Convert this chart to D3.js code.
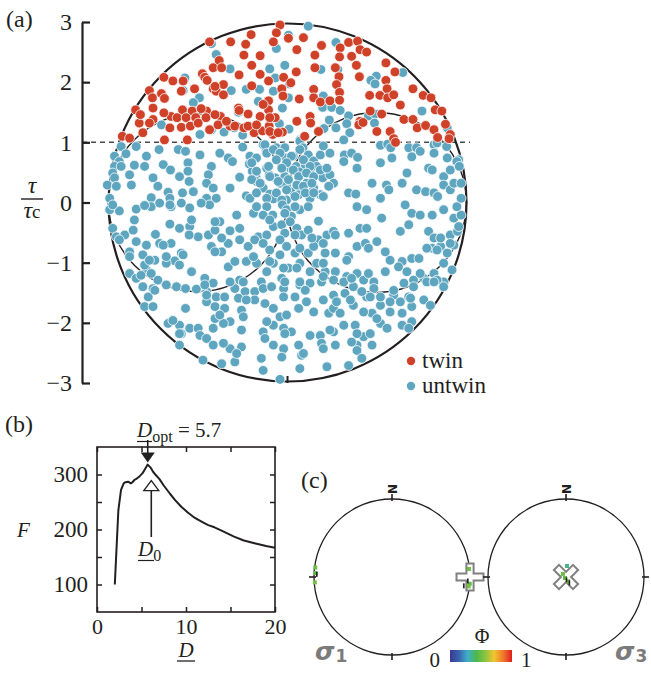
<!DOCTYPE html>
<html><head><meta charset="utf-8">
<script src="https://cdn.jsdelivr.net/npm/d3@7/dist/d3.min.js"></script>
<style>
body{margin:0;background:#fff}
svg{display:block;font-family:"Liberation Serif","Times New Roman",serif;fill:#231f20}
</style></head>
<body><svg id="fig" width="651" height="673"></svg>
<script>
// ---------- (a) normalised resolved shear stress on the Mohr diagram ----------
// [sigma_n, tau/tau_c] for every grain, split by twin observation
const twinPts = [[-0.05,2.95],[-0.11,2.82],[0.09,2.73],[-0.53,2.79],[0.34,2.74],[-1.22,2.67],[-0.87,2.67],[1.09,2.66],[1.24,2.68],[-0.62,2.63],[-0.16,2.67],[0.23,2.54],[0.64,2.61],[1.28,2.54],[1.39,2.5],[0.95,2.57],[-0.65,2.45],[-0.38,2.44],[0.53,2.45],[0.94,2.42],[-1.06,2.36],[-1.16,2.24],[-1.02,2.24],[-0.73,2.12],[-0.38,2.13],[0.22,2.17],[0.53,2.24],[0.87,2.24],[1.22,2.28],[1.71,2.32],[1.86,2.17],[-1.34,2.14],[-1.3,2.08],[-1.98,2.08],[-1.83,2.02],[-1.66,2.02],[-1.26,2.03],[0.01,2.08],[0.93,2.09],[1.27,2.09],[1.71,2.03],[-2.22,1.86],[-2.02,1.81],[-2.17,1.74],[-1.97,1.73],[-1.69,1.85],[-1.47,1.89],[-1.16,1.89],[-0.99,1.96],[-1.11,1.85],[-0.02,1.89],[0.13,1.99],[0.51,1.88],[0.89,1.96],[0.94,1.83],[1.44,1.78],[1.61,1.78],[1.73,1.89],[1.74,1.74],[1.84,1.79],[2.16,1.89],[2.33,1.78],[2.46,1.74],[-0.24,1.69],[0.27,1.72],[0.51,1.74],[0.62,1.67],[0.78,1.69],[0.94,1.7],[-2.45,1.54],[-2.16,1.57],[-1.86,1.43],[-1.67,1.54],[-1.51,1.52],[-1.27,1.52],[-1.76,1.41],[-1.61,1.41],[-1.45,1.41],[-1.28,1.41],[-1.04,1.43],[-0.74,1.57],[-0.58,1.47],[-0.38,1.43],[-0.24,1.54],[0.23,1.35],[0.45,1.43],[1.28,1.35],[1.64,1.47],[1.95,1.62],[2.01,1.38],[2.16,1.38],[2.53,1.54],[2.64,1.52],[-2.39,1.32],[-1.88,1.24],[-1.69,1.25],[-1.54,1.27],[-2.16,1.38],[-0.88,1.27],[-0.8,1.27],[-0.65,1.24],[-0.48,1.16],[-0.34,1.19],[-0.23,1.27],[-0.13,1.41],[-0.17,1.13],[-0.01,1.17],[0.46,1.32],[0.59,1.18],[1.56,1.18],[1.78,1.18],[2.23,1.24],[2.37,1.28],[2.51,1.21],[2.7,1.3],[2.78,1.13],[2.57,1.08],[-2.67,1.1],[-2.55,1.07],[-2.33,1.16],[-1.97,1.04],[-1.59,1.04],[2.76,1.06],[1.84,1.06],[1.45,1.52],[1.26,1.29],[-0.52,2.28],[-1.13,1.93],[-0.99,1.79],[-0.52,1.94],[-0.24,2.02],[0.0,1.77],[-2.37,1.46],[-1.98,1.49],[-1.36,1.56],[-1.13,1.46],[-0.73,1.53],[-0.33,1.63],[-0.22,1.41],[-2.22,1.32],[-1.41,1.32],[-1.22,1.21],[-1.08,1.29],[-0.94,1.35],[-0.58,1.27],[-0.44,1.29],[-0.22,1.18],[-0.08,1.16],[1.14,2.43],[0.36,1.1],[1.87,1.0],[1.33,1.33]];

const untwinPts = [[0.42,2.93],[0.09,2.78],[-1.19,2.64],[0.88,2.66],[-0.11,2.56],[-1.11,2.46],[-0.88,2.22],[-0.22,2.22],[0.03,2.28],[0.63,2.21],[0.91,2.21],[1.99,2.16],[-1.63,2.07],[-0.13,2.07],[1.55,2.1],[-1.66,1.86],[-0.86,1.86],[-0.61,1.88],[-0.39,1.88],[-0.16,1.85],[0.11,1.97],[1.46,2.03],[1.53,1.97],[-1.39,1.74],[0.09,1.74],[-1.49,1.66],[-0.74,1.5],[-0.01,1.57],[0.66,1.58],[0.81,1.58],[0.95,1.53],[1.09,1.44],[1.42,1.44],[1.53,1.47],[2.31,1.52],[-2.02,1.29],[-1.19,1.21],[-0.98,1.35],[-0.81,1.24],[-0.98,1.17],[-0.67,1.12],[-0.06,1.31],[0.1,1.22],[0.68,1.23],[0.88,1.24],[0.77,1.37],[1.06,1.31],[1.52,1.32],[-1.38,1.13],[0.67,1.77],[1.11,1.16],[1.01,1.04],[2.73,1.24],[0.28,1.04],[-0.41,1.68],
[-2.69,0.93],[-2.44,0.93],[-2.06,0.88],[-1.74,0.88],[-1.62,0.85],[-1.38,0.79],[-1.05,0.82],[-0.91,0.74],[-0.67,0.92],[-0.55,0.77],[-0.44,0.74],[-0.33,0.96],[-0.28,0.86],[-0.11,0.91],[-0.05,0.82],[0.05,0.74],[0.17,0.77],[0.28,1.02],[0.33,0.91],[0.42,0.79],[0.51,0.69],[0.62,0.79],[0.67,0.94],[0.78,0.82],[1.02,0.79],[1.14,0.82],[1.24,0.75],[1.62,0.95],[1.74,0.97],[1.79,0.91],[2.09,0.91],[2.22,0.91],[2.28,0.85],[2.51,0.96],[2.56,0.99],[2.72,0.93],[2.51,0.82],[2.73,0.74],[2.92,0.71],[1.81,0.74],[2.14,0.76],[-2.8,0.77],[-2.72,0.68],[-2.61,0.81],[-2.27,0.77],
[-2.8,0.6],[-2.69,0.6],[-2.47,0.62],[-2.3,0.6],[-1.99,0.63],[-1.87,0.54],[-1.58,0.66],[-1.58,0.52],[-1.19,0.6],[-1.24,0.46],[-0.84,0.68],[-0.56,0.64],[-0.51,0.52],[-0.45,0.43],[-0.27,0.57],[-0.23,0.46],[-0.13,0.41],[0.03,0.43],[0.12,0.57],[0.22,0.6],[0.28,0.51],[0.37,0.63],[0.45,0.52],[0.56,0.6],[0.66,0.41],[0.78,0.46],[1.01,0.68],[1.23,0.57],[1.62,0.66],[2.06,0.49],[2.42,0.57],[2.48,0.54],[2.67,0.43],[2.78,0.54],[2.89,0.68],[2.93,0.6],[-2.83,0.49],[-2.8,0.41],[-2.55,0.46],[-2.16,0.41],[-1.72,0.43],[-1.56,0.35],[-0.72,0.42],
[-2.92,0.29],[-2.77,0.27],[-2.52,0.29],[-2.08,0.27],[-1.91,0.17],[-1.67,0.16],[-1.49,0.18],[-1.27,0.32],[-1.16,0.24],[-0.88,0.24],[-0.61,0.11],[-0.44,0.35],[-0.33,0.24],[-0.22,0.14],[-0.05,0.32],[0.06,0.29],[0.17,0.18],[0.28,0.24],[0.39,0.32],[0.51,0.24],[0.62,0.13],[0.84,0.32],[1.09,0.16],[1.21,0.14],[1.48,0.32],[1.72,0.29],[1.76,0.21],[1.98,0.32],[2.22,0.21],[2.37,0.18],[2.51,0.16],[2.67,0.29],[2.78,0.21],[2.84,0.32],[2.96,0.32],[-2.88,0.07],[-2.19,0.08],[-1.88,0.07],[-1.27,0.07],[-1.11,0.07],[-0.55,0.07],[-0.16,0.06],[0.06,0.04],[0.26,0.13],[0.45,0.07],[1.62,0.07],[2.57,0.1],[2.96,0.07],
[0.03,0.91],[0.14,0.77],[0.28,0.88],[0.34,0.71],[0.45,0.6],[0.06,0.66],[0.17,0.54],[0.26,0.43],[0.39,0.49],[0.51,0.43],[0.09,0.38],[0.23,0.29],[0.34,0.27],[0.48,0.32],[0.62,0.54],[0.73,0.57],[0.06,0.21],[0.2,0.1],[0.37,0.16],[0.51,0.16],[0.67,0.1],[0.76,0.27],[-0.3,0.96],[-0.27,0.82],[-0.16,0.88],[-0.05,0.82],[-0.52,0.66],[-0.44,0.52],[-0.24,0.6],[-0.11,0.71],[-0.02,0.57],[-0.52,0.38],[-0.38,0.32],[-0.22,0.43],[-0.08,0.35],[-0.44,0.16],[-0.27,0.07],[-0.11,0.16],[-0.02,0.04],
[-2.88,-0.12],[-2.72,-0.14],[-2.44,-0.11],[-2.19,-0.07],[-2.05,-0.01],[-1.86,-0.07],[-1.69,-0.01],[-1.55,-0.09],[-1.22,-0.04],[-0.77,-0.21],[-0.49,-0.18],[-0.27,-0.07],[-0.17,-0.21],[-0.01,-0.04],[0.06,-0.12],[0.14,-0.23],[0.28,-0.12],[0.42,-0.07],[0.59,-0.31],[1.23,-0.07],[1.39,-0.12],[1.64,-0.26],[2.03,-0.04],[2.14,-0.18],[2.28,-0.21],[2.48,-0.21],[2.67,-0.12],[2.84,-0.26],[2.96,-0.21],[2.89,-0.07],[-2.47,-0.29],
[-2.83,-0.43],[-2.77,-0.57],[-2.63,-0.54],[-2.49,-0.46],[-2.12,-0.53],[-1.88,-0.36],[-1.72,-0.43],[-1.55,-0.4],[-1.41,-0.57],[-1.24,-0.54],[-1.13,-0.46],[-1.05,-0.32],[-0.88,-0.47],[-0.72,-0.43],[-0.41,-0.57],[-0.27,-0.54],[-0.16,-0.4],[-0.02,-0.37],[0.03,-0.51],[0.12,-0.32],[0.23,-0.43],[0.31,-0.54],[0.42,-0.46],[0.59,-0.62],[0.73,-0.54],[0.84,-0.48],[1.09,-0.51],[1.28,-0.43],[1.39,-0.43],[1.95,-0.48],[2.42,-0.48],[2.51,-0.59],[2.78,-0.54],[2.9,-0.48],[2.92,-0.4],[-2.72,-0.62],
[-2.44,-0.65],[-2.55,-0.82],[-2.27,-0.71],[-2.05,-0.68],[-1.86,-0.68],[-1.69,-0.84],[-1.19,-0.73],[-1.02,-0.82],[-0.91,-0.68],[-0.72,-0.62],[-0.58,-0.73],[-0.47,-0.62],[-0.33,-0.68],[-0.22,-0.79],[-0.05,-0.62],[0.06,-0.73],[0.2,-0.84],[0.28,-0.76],[0.42,-0.84],[0.51,-0.73],[0.7,-0.84],[0.87,-0.84],[1.09,-0.9],[1.23,-0.73],[1.37,-0.68],[1.42,-0.76],[1.56,-0.65],[1.7,-0.82],[1.78,-0.96],[1.98,-0.98],[2.14,-0.93],[2.26,-0.93],[2.48,-0.76],[2.62,-0.73],[2.84,-0.71],[2.73,-0.84],[-2.33,-0.87],[-2.13,-0.96],[-1.8,-0.97],
[-2.55,-1.18],[-2.44,-1.26],[-2.27,-1.12],[-2.08,-1.29],[-1.94,-1.01],[-1.72,-1.04],[-1.52,-1.15],[-1.3,-1.26],[-0.91,-1.07],[-0.8,-0.98],[-0.61,-0.98],[-0.44,-1.01],[-0.27,-1.15],[-0.16,-1.01],[0.09,-1.09],[0.28,-1.01],[0.45,-1.15],[0.7,-1.15],[0.87,-1.15],[1.06,-1.23],[1.23,-1.18],[1.34,-1.29],[1.51,-1.32],[1.7,-1.15],[2.01,-1.34],[2.17,-1.29],[2.34,-1.26],[2.51,-1.18],[2.67,-1.01],[2.81,-1.12],[-0.72,-1.29],[-0.36,-1.32],[-0.02,-1.26],
[-2.33,-1.4],[-2.24,-1.57],[-2.16,-1.43],[-1.94,-1.37],[-1.77,-1.4],[-1.62,-1.43],[-1.27,-1.48],[-1.11,-1.57],[-0.97,-1.57],[-0.8,-1.43],[-0.63,-1.48],[-0.47,-1.48],[-0.33,-1.43],[-0.19,-1.4],[0.01,-1.43],[0.28,-1.37],[0.45,-1.34],[0.64,-1.32],[0.84,-1.54],[1.03,-1.51],[1.17,-1.4],[1.39,-1.57],[1.84,-1.54],[2.09,-1.57],[2.34,-1.62],[2.67,-1.32],[-1.16,-1.34],
[-2.3,-1.73],[-2.16,-1.73],[-1.62,-1.76],[-1.27,-1.65],[-1.13,-1.73],[-0.97,-1.76],[-0.69,-1.79],[-0.47,-1.62],[-0.3,-1.68],[-0.16,-1.76],[0.26,-1.76],[0.39,-1.65],[0.76,-1.84],[0.84,-1.76],[0.95,-1.84],[1.17,-1.71],[1.62,-1.71],[1.78,-1.82],[1.98,-1.84],[2.14,-1.73],[2.45,-1.71],[-1.13,-1.93],[-0.88,-1.98],[-0.05,-1.9],[1.48,-1.84],
[-1.91,-2.01],[-1.72,-2.04],[-1.55,-2.09],[-1.41,-2.09],[-1.69,-2.18],[-1.38,-2.21],[-1.16,-2.09],[-0.99,-2.01],[-0.69,-2.12],[-0.33,-2.15],[-0.16,-2.04],[0.01,-2.09],[0.14,-2.15],[0.45,-2.21],[0.62,-2.21],[0.84,-2.15],[1.01,-2.04],[1.2,-2.04],[1.34,-2.23],[1.62,-2.01],[1.73,-2.09],[1.98,-2.04],[2.14,-1.98],[-0.3,-2.26],
[-1.72,-2.37],[-1.27,-2.26],[-1.16,-2.37],[-0.88,-2.43],[-0.69,-2.4],[-0.16,-2.37],[0.01,-2.43],[0.26,-2.37],[0.64,-2.34],[0.87,-2.37],[1.23,-2.37],[1.48,-2.37],[-1.33,-2.62],[-1.02,-2.68],[-0.8,-2.65],[-0.36,-2.59],[-0.02,-2.57],[0.31,-2.54],[0.73,-2.73],[1.09,-2.71],[0.28,-2.76],[-0.05,-2.94],
[-2.83,-0.04],[-2.3,-0.05],[-1.88,-0.04],[-1.36,-0.01],[-0.44,-0.07],[-0.33,-0.21],[0.03,-0.18],[-1.52,-0.29],[-1.13,-0.32],[-0.22,-0.29],[-1.99,-0.71],[-1.56,-0.54],[-1.02,-0.59],[-2.55,-0.9],[-2.3,-1.04],[-2.22,-0.96],[-1.94,-0.9],[-1.66,-0.87],[-1.13,-0.82],[-0.49,-0.9],[-0.22,-0.98],[-0.05,-0.87],[-2.36,-1.21],[-2.19,-1.18],[-2.13,-1.46],[-1.44,-1.44],[-1.3,-1.37],[-0.88,-1.32],[-0.66,-1.32],[-1.27,-1.54],[-0.74,-1.59],[-0.61,-1.62],[-1.05,-1.87],[-0.66,-1.9],[-0.27,-1.98],[-1.83,-1.96],[-1.72,-2.18],[-0.99,-2.34],[-0.77,-2.51],[-0.33,-2.79],
[0.2,-0.07],[0.2,-0.54],[0.48,-0.59],[0.67,-0.68],[0.87,-0.54],[2.09,-0.37],[2.62,-0.59],[2.39,-0.76],[2.56,-0.79],[2.78,-0.68],[0.01,-1.09],[0.23,-1.09],[0.56,-1.01],[0.67,-1.01],[1.06,-0.96],[1.42,-1.18],[1.92,-1.07],[2.06,-1.15],[2.28,-1.18],[2.39,-1.32],[2.56,-1.29],[0.03,-1.32],[0.28,-1.32],[0.67,-1.23],[0.84,-1.29],[1.01,-1.32],[1.14,-1.26],[1.51,-1.43],[1.84,-1.46],[2.17,-1.4],[2.51,-1.32],[2.67,-1.4],[0.01,-1.57],[0.2,-1.57],[0.37,-1.46],[0.67,-1.62],[0.89,-1.65],[1.12,-1.62],[1.31,-1.48],[1.45,-1.57],[1.62,-1.57],[1.78,-1.65],[1.95,-1.65],[2.12,-1.59],[0.06,-1.87],[0.51,-1.82],[1.34,-1.82],[1.56,-1.93],[2.09,-2.09],[0.03,-2.18],[0.78,-2.12],[1.23,-2.18],[1.45,-2.18],[0.34,-2.51],[0.67,-2.43],[1.14,-2.32],[1.23,-2.46],[1.31,-2.59]];

// principal stresses (normalised) bounding the Mohr circles
const sigma3 = -2.9, sigma2 = 0.06, sigma1 = 3.05;
const tauTicks = [-3, -2, -1, 0, 1, 2, 3];
const twinThreshold = 1;
const legendLabels = ["twin", "untwin"];

// ---------- (b) objective function against the estimated dislocation density ----------
const curveD = [2.0, 2.4, 2.7, 3.0, 3.2, 3.5, 3.8, 4.0, 4.2, 4.5, 4.8, 5.1, 5.4, 5.7, 6.0, 6.3, 6.6, 7.0, 7.5, 8.2, 8.8, 9.5, 10.2, 11.0, 11.8, 12.5, 13.2, 14.0, 15.4, 16.5, 17.7, 19.0, 20.0];
const curveF = [100, 235, 272, 284, 286, 287, 284, 286, 290, 293, 297, 302, 310, 318, 313, 305, 299, 292, 280, 265, 253, 241, 231, 221, 214, 208, 204, 198, 187, 180, 175, 170, 167];
const dOpt = 5.7, d0 = 6.1;
const dTicks = [0, 5, 10, 15, 20];
const fTicks = [100, 150, 200, 250, 300];

// ---------- (c) principal stress directions on equal-area stereonets ----------
// [trend, plunge] in degrees, with the stress ratio Phi for each solution
const sigma1Dirs = [[277, 1], [273, 2], [266, 1], [84, 1], [95, 0], [97, 1]];
const sigma1Phi  = [0.50, 0.47, 0.52, 0.50, 0.46, 0.52];
const sigma1Best = [[272, 4], [93, 3], [97, 8]];
const sigma3Dirs = [[315, 85.5], [225, 88.5], [153, 85], [5, 78.5]];
const sigma3Phi  = [0.50, 0.47, 0.53, 0.36];
const sigma3Best = [[170, 87], [150, 83]];
const phiColors = ["#3b3893", "#3a64b0", "#3fb0c9", "#4db848", "#8dc540", "#f2c530", "#ef7a2a", "#e31d23"];

// =====================================================================
const svg = d3.select("#fig");
const ink = "#231f20";
const red = "#cf4128", blue = "#5ea5bf";
const serif = "Liberation Serif";

// ----- panel (a)
const k = (383 - 22) / 6;
const xA = d3.scaleLinear().domain([-3, 3]).range([283 - 3 * k, 283 + 3 * k]);
const yA = d3.scaleLinear().domain([-3, 3]).range([383, 22]);
const gA = svg.append("g");

const mohr = [[sigma3, sigma2], [sigma2, sigma1]];
gA.selectAll("circle.small").data(mohr).join("circle")
  .attr("cx", d => xA((d[0] + d[1]) / 2)).attr("cy", yA(0))
  .attr("r", d => (xA(d[1]) - xA(d[0])) / 2)
  .attr("fill", "none").attr("stroke", ink).attr("stroke-width", 1.4);

gA.append("line")
  .attr("x1", 82).attr("x2", 470)
  .attr("y1", yA(twinThreshold)).attr("y2", yA(twinThreshold))
  .attr("stroke", "#4a4a4a").attr("stroke-width", 1.5).attr("stroke-dasharray", "5,4");

gA.append("circle")
  .attr("cx", xA((sigma1 + sigma3) / 2)).attr("cy", yA(0))
  .attr("r", (xA(sigma1) - xA(sigma3)) / 2)
  .attr("fill", "none").attr("stroke", ink).attr("stroke-width", 2.2);

gA.append("line")
  .attr("x1", xA((sigma1 + sigma3) / 2)).attr("x2", xA((sigma1 + sigma3) / 2))
  .attr("y1", yA(-3)).attr("y2", yA(-3) - 7)
  .attr("stroke", ink).attr("stroke-width", 2);

gA.append("g").selectAll("circle").data(untwinPts).join("circle")
  .attr("cx", d => xA(d[0])).attr("cy", d => yA(d[1])).attr("r", 4.9)
  .attr("fill", blue).attr("stroke", "#fff").attr("stroke-width", 0.8);
gA.append("g").selectAll("circle").data(twinPts).join("circle")
  .attr("cx", d => xA(d[0])).attr("cy", d => yA(d[1])).attr("r", 4.9)
  .attr("fill", red).attr("stroke", "#fff").attr("stroke-width", 0.8);

const axA = gA.append("g").attr("transform", "translate(82,0)")
  .call(d3.axisLeft(yA).tickValues(tauTicks).tickFormat(d3.format("d"))
    .tickSizeInner(-8).tickSizeOuter(0).tickPadding(10));
axA.selectAll("path,line").attr("stroke", ink).attr("stroke-width", 2.2);
axA.selectAll("text").attr("font-size", 24).attr("font-family", serif).attr("fill", ink);

gA.append("text").attr("x", 6).attr("y", 27).attr("font-size", 24).text("(a)");
// tau / tau_c
gA.append("text").attr("x", 32).attr("y", 193).attr("text-anchor", "middle")
  .attr("font-size", 24).attr("font-style", "italic").text("τ");
gA.append("line").attr("x1", 21).attr("x2", 43).attr("y1", 199).attr("y2", 199)
  .attr("stroke", ink).attr("stroke-width", 1.4);
const tc = gA.append("text").attr("x", 32).attr("y", 218).attr("text-anchor", "middle").attr("font-size", 24);
tc.append("tspan").attr("font-style", "italic").text("τ");
tc.append("tspan").attr("font-size", 19).text("c");

// legend
const lg = gA.append("g").selectAll("g").data(legendLabels).join("g")
  .attr("transform", (d, i) => `translate(411,${361 + i * 25})`);
lg.append("circle").attr("r", 4.2).attr("fill", (d, i) => i ? blue : red);
lg.append("text").attr("x", 11).attr("y", 7).attr("font-size", 23).text(d => d);

// ----- panel (b)
const xB = d3.scaleLinear().domain([0, 20]).range([97, 275]);
const yB = d3.scaleLinear().domain([50, 350]).range([612, 447]);
const gB = svg.append("g");

const styleAxis = (g, size) => {
  g.select(".domain").remove();
  g.selectAll("line").attr("stroke", ink).attr("stroke-width", 1.5);
  g.selectAll("text").attr("font-size", size).attr("font-family", serif).attr("fill", ink);
};
gB.append("g").attr("transform", `translate(0,${yB(50)})`)
  .call(d3.axisBottom(xB).tickValues(dTicks).tickSize(-5).tickPadding(6).tickFormat(d => d % 10 === 0 ? d : ""))
  .call(styleAxis, 22);
gB.append("g").attr("transform", `translate(0,${yB(350)})`)
  .call(d3.axisTop(xB).tickValues(dTicks).tickSize(-5).tickFormat(""))
  .call(styleAxis, 22);
gB.append("g").attr("transform", `translate(${xB(0)},0)`)
  .call(d3.axisLeft(yB).tickValues(fTicks).tickSize(-5).tickPadding(9).tickFormat(d => d % 100 === 0 ? d : ""))
  .call(styleAxis, 23);
gB.append("g").attr("transform", `translate(${xB(20)},0)`)
  .call(d3.axisRight(yB).tickValues(fTicks).tickSize(-5).tickFormat(""))
  .call(styleAxis, 23);
gB.append("rect").attr("x", xB(0)).attr("y", yB(350))
  .attr("width", xB(20) - xB(0)).attr("height", yB(50) - yB(350))
  .attr("fill", "none").attr("stroke", ink).attr("stroke-width", 1.6);

gB.append("path").datum(d3.zip(curveD, curveF))
  .attr("d", d3.line().x(d => xB(d[0])).y(d => yB(d[1])))
  .attr("fill", "none").attr("stroke", ink).attr("stroke-width", 2).attr("stroke-linejoin", "round");

const fPeak = d3.max(curveF);
// D_opt arrow (filled, pointing down at the peak)
const xo = xB(dOpt), tipO = yB(fPeak) - 2;
gB.append("line").attr("x1", xo).attr("x2", xo).attr("y1", 440).attr("y2", tipO - 8)
  .attr("stroke", ink).attr("stroke-width", 1.6);
gB.append("path").attr("d", `M${xo - 7},${tipO - 10}L${xo + 7},${tipO - 10}L${xo},${tipO}Z`).attr("fill", ink);
// D_0 arrow (open, pointing up)
const x0 = xB(d0), tip0 = yB(fPeak) + 16;
gB.append("path").attr("d", `M${x0 - 7.5},${tip0 + 10}L${x0 + 7.5},${tip0 + 10}L${x0},${tip0}Z`)
  .attr("fill", "#fff").attr("stroke", ink).attr("stroke-width", 1.3);
gB.append("line").attr("x1", x0).attr("x2", x0).attr("y1", tip0 + 10).attr("y2", 537)
  .attr("stroke", ink).attr("stroke-width", 1.6);

gB.append("text").attr("x", 5).attr("y", 432).attr("font-size", 24).text("(b)");
const lo = gB.append("text").attr("x", 137).attr("y", 437).attr("font-size", 21);
lo.append("tspan").attr("font-style", "italic").text("D");
lo.append("tspan").attr("font-size", 16).attr("dy", 5).text("opt");
lo.append("tspan").attr("dy", -5).text(" = 5.7");
gB.append("line").attr("x1", 137).attr("x2", 152).attr("y1", 441.5).attr("y2", 441.5).attr("stroke", ink).attr("stroke-width", 1.2);
const l0 = gB.append("text").attr("x", 138).attr("y", 556).attr("font-size", 21);
l0.append("tspan").attr("font-style", "italic").text("D");
l0.append("tspan").attr("font-size", 16).attr("dy", 5).text("0");
gB.append("line").attr("x1", 138).attr("x2", 154).attr("y1", 560.5).attr("y2", 560.5).attr("stroke", ink).attr("stroke-width", 1.2);
gB.append("text").attr("x", 17).attr("y", 537).attr("font-size", 21).attr("font-style", "italic").text("F");
gB.append("text").attr("x", xB(10)).attr("y", 657).attr("text-anchor", "middle")
  .attr("font-size", 21).attr("font-style", "italic").text("D");
gB.append("line").attr("x1", xB(10) - 9).attr("x2", xB(10) + 9).attr("y1", 661).attr("y2", 661).attr("stroke", ink).attr("stroke-width", 1.3);

// ----- panel (c)
const R = 78;
const phiScale = d3.scaleLinear().domain(d3.range(phiColors.length).map(i => i / (phiColors.length - 1))).range(phiColors);
const project = (trend, plunge) => {
  const r = R * Math.SQRT2 * Math.sin((90 - plunge) / 2 * Math.PI / 180);
  const t = trend * Math.PI / 180;
  return [r * Math.sin(t), -r * Math.cos(t)];
};
const nets = [
  {cx: 392, cy: 577, sub: "1", dirs: sigma1Dirs, phi: sigma1Phi, best: sigma1Best, centre: [90, 0], rot: 0, lx: 315},
  {cx: 566, cy: 577, sub: "3", dirs: sigma3Dirs, phi: sigma3Phi, best: sigma3Best, centre: [0, 90], rot: 45, lx: 615}
];
const L = 13.5, w = 3.6;
const crossPath = `M${-w},${-L}H${w}V${-w}H${L}V${w}H${w}V${L}H${-w}V${w}H${-L}V${-w}H${-w}Z`;

nets.forEach(n => {
  const g = svg.append("g").attr("transform", `translate(${n.cx},${n.cy})`);
  g.append("circle").attr("r", R).attr("fill", "none").attr("stroke", ink).attr("stroke-width", 1.3);
  // compass ticks
  [[0, -1], [1, 0], [0, 1], [-1, 0]].forEach(([dx, dy]) => {
    g.append("line").attr("x1", dx * (R - 2)).attr("y1", dy * (R - 2))
      .attr("x2", dx * (R + 5)).attr("y2", dy * (R + 5))
      .attr("stroke", ink).attr("stroke-width", 1.6);
  });
  g.append("text").attr("transform", `translate(0,${-R - 10}) rotate(90)`)
    .attr("text-anchor", "middle").attr("dy", "0.36em")
    .attr("font-family", "DejaVu Sans").attr("font-weight", "bold").attr("font-size", 12).text("N");
  const c = project(n.centre[0], n.centre[1]);
  g.append("path").attr("d", crossPath)
    .attr("transform", `translate(${c[0]},${c[1]}) rotate(${n.rot})`)
    .attr("fill", "#fff").attr("stroke", "#808080").attr("stroke-width", 2);
  g.selectAll("rect.sol").data(n.dirs).join("rect")
    .attr("x", d => project(d[0], d[1])[0] - 2).attr("y", d => project(d[0], d[1])[1] - 2)
    .attr("width", 4).attr("height", 4)
    .attr("fill", (d, i) => phiScale(n.phi[i]));
  g.selectAll("rect.best").data(n.best).join("rect")
    .attr("x", d => project(d[0], d[1])[0] - 0.8).attr("y", d => project(d[0], d[1])[1] - 2.5)
    .attr("width", 1.6).attr("height", 5).attr("fill", ink);
  const lab = svg.append("text").attr("x", n.lx).attr("y", 660)
    .attr("font-family", "DejaVu Sans").attr("font-weight", "bold")
    .attr("font-size", 25).attr("fill", "#7b7b7b");
  lab.append("tspan").attr("font-style", "italic").text("σ");
  lab.append("tspan").attr("font-size", 17).attr("dy", 2).attr("dx", 1).text(n.sub);
});

svg.append("text").attr("x", 301).attr("y", 488).attr("font-size", 24).text("(c)");

// colour bar for Phi
const grad = svg.append("defs").append("linearGradient").attr("id", "phiGrad");
grad.selectAll("stop").data(phiColors).join("stop")
  .attr("offset", (d, i) => i / (phiColors.length - 1)).attr("stop-color", d => d);
svg.append("rect").attr("x", 450).attr("y", 650).attr("width", 62).attr("height", 12).attr("fill", "url(#phiGrad)");
svg.append("text").attr("x", 440).attr("y", 667).attr("text-anchor", "end").attr("font-size", 21).text("0");
svg.append("text").attr("x", 521).attr("y", 667).attr("font-size", 21).text("1");
svg.append("text").attr("x", 482).attr("y", 643).attr("text-anchor", "middle").attr("font-size", 20).text("Φ");
</script>
</body></html>
